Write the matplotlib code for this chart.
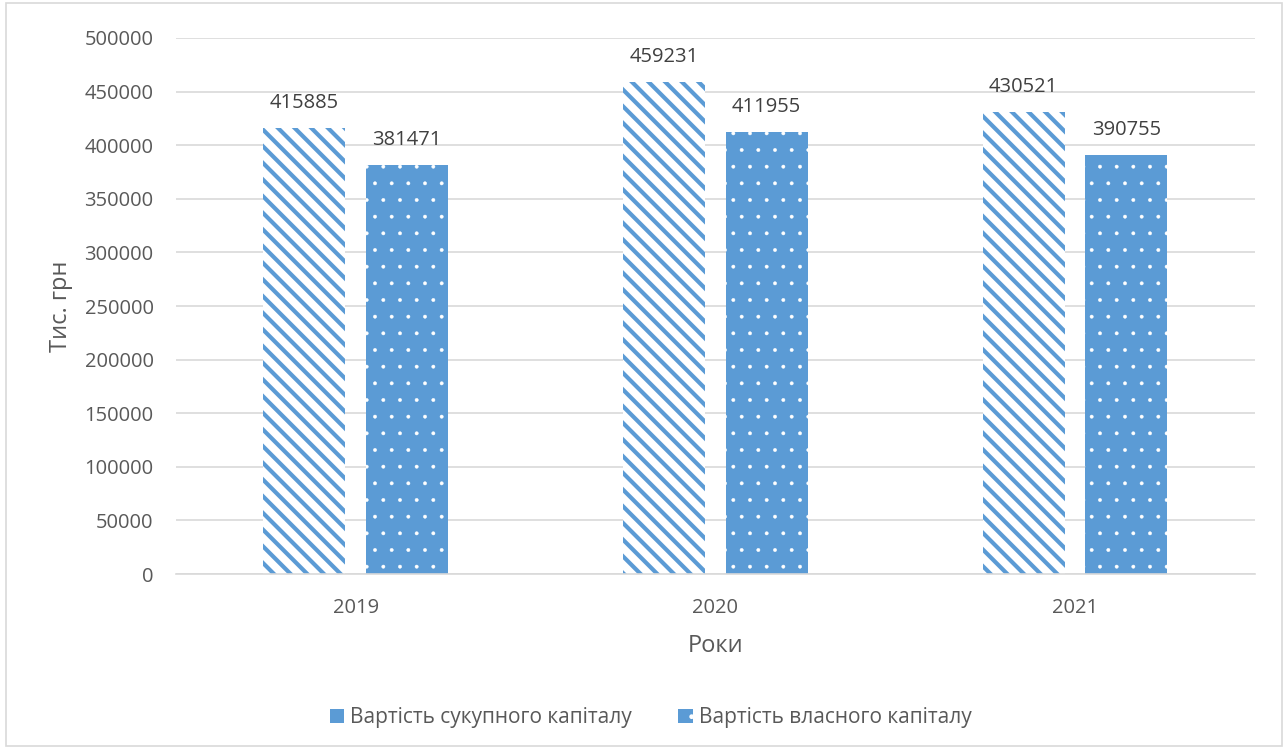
import matplotlib.pyplot as plt
from matplotlib.patches import Patch
import numpy as np

years = ["2019", "2020", "2021"]
total_capital = [415885, 459231, 430521]
equity_capital = [381471, 411955, 390755]
series_names = ["Вартість сукупного капіталу", "Вартість власного капіталу"]

blue = "#5B9BD5"
grey_text = "#595959"

plt.rcParams["font.family"] = ["Open Sans", "DejaVu Sans"]

fig = plt.figure(figsize=(12.83, 7.49), dpi=100)
fig.patches.append(plt.Rectangle((0.005, 0.004), 0.994, 0.992, transform=fig.transFigure,
                                 fill=False, edgecolor="#D9D9D9", linewidth=1.2))
ax = fig.add_axes([0.137, 0.2336, 0.841, 0.7157])

x = np.arange(len(years))
w = 0.228
off = 0.143

# striped bars for total capital, dotted bars for equity
with plt.rc_context({"hatch.linewidth": 3.0}):
    b1 = ax.bar(x - off, total_capital, w, facecolor="white", edgecolor=blue,
                hatch="\\\\", linewidth=0, zorder=2)
with plt.rc_context({"hatch.linewidth": 0.3}):
    b2 = ax.bar(x + off, equity_capital, w, facecolor=blue, edgecolor="white",
                hatch=".", linewidth=0, zorder=2)

for bars, vals in ((b1, total_capital), (b2, equity_capital)):
    for r, v in zip(bars, vals):
        ax.text(r.get_x() + r.get_width() / 2, v + 14000, str(v), ha="center",
                va="bottom", fontsize=14.5, color="#404040")

ax.set_xlim(-0.5, 2.5)
ax.set_ylim(0, 500000)
ax.set_yticks(np.arange(0, 500001, 50000))
ax.set_xticks(x)
ax.set_xticklabels(years)
ax.tick_params(axis="both", length=0, labelsize=14.5, labelcolor=grey_text)
ax.tick_params(axis="y", pad=16)
ax.tick_params(axis="x", pad=17)
ax.grid(axis="y", color="#D9D9D9", linewidth=1.2, zorder=0)
ax.set_axisbelow(True)
for s in ("top", "right", "left"):
    ax.spines[s].set_visible(False)
ax.spines["bottom"].set_color("#D9D9D9")
ax.spines["bottom"].set_linewidth(1.2)

ax.set_xlabel("Роки", fontsize=17, color=grey_text, labelpad=12)
ax.set_ylabel("Тис. грн", fontsize=17, color=grey_text, labelpad=8)

with plt.rc_context({"hatch.linewidth": 0.3}):
    handles = [Patch(facecolor=blue, edgecolor=blue, linewidth=0),
               Patch(facecolor=blue, edgecolor="white", hatch=".", linewidth=0)]
ax.legend(handles, series_names, loc="center", bbox_to_anchor=(0.44, -0.268),
          ncol=2, frameon=False, fontsize=15, labelcolor=grey_text,
          handlelength=0.7, handleheight=0.7, columnspacing=2.2, handletextpad=0.3)

fig.savefig("out.png", dpi=100)
